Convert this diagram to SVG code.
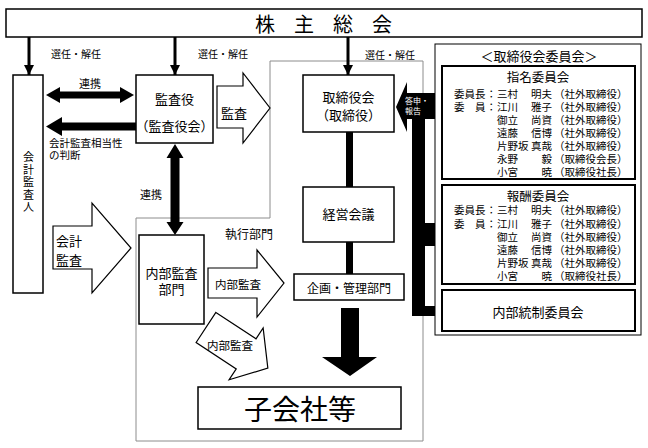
<svg xmlns="http://www.w3.org/2000/svg" width="648" height="448" viewBox="0 0 648 448">
<style>
text{font-family:"Noto Sans CJK JP","Noto Sans CJK SC",sans-serif;fill:#000}
.c{text-anchor:middle;dominant-baseline:central}
.l{dominant-baseline:central}
.box{fill:#fff;stroke:#000;stroke-width:1.5}
.ibox{fill:#fff;stroke:#000;stroke-width:2}
.hollow{fill:#fff;stroke:#000;stroke-width:1.2}
.blk{fill:#000}
.ln{stroke:#000;stroke-width:3;fill:none}
.m{font-size:10.5px}
.e{text-anchor:end}
</style>
<defs>
<marker id="ah" viewBox="0 0 10 10" refX="10" refY="5" markerWidth="10" markerHeight="10" markerUnits="userSpaceOnUse" orient="auto">
<path d="M0,0 L10,5 L0,10 z" fill="#000"/>
</marker>
</defs>
<rect x="0" y="0" width="648" height="448" fill="#fff"/>

<!-- gray execution area outline -->
<polygon points="136,441 136,218 270,218 270,61 423,61 423,441" fill="none" stroke="#8c8c8c" stroke-width="1"/>

<g id="shareholders">
<rect class="box" x="6" y="9" width="636" height="28"/>
<text class="l" font-size="20"><tspan x="255" y="23">株</tspan><tspan x="294" y="23">主</tspan><tspan x="333" y="23">総</tspan><tspan x="372" y="23">会</tspan></text>
</g>

<g id="auditor">
<rect class="box" x="13" y="75" width="30" height="218"/>
<text x="28.5" y="151.5" font-size="11" style="writing-mode:vertical-rl;letter-spacing:1.5px">会計監査人</text>
</g>

<g id="kansayaku">
<rect class="box" x="136" y="75" width="77" height="68"/>
<text class="c" x="174.5" y="98" font-size="13">監査役</text>
<text class="c" x="174.5" y="125" font-size="13">（監査役会）</text>
</g>

<g id="board">
<rect class="box" x="303" y="75" width="91" height="57"/>
<text class="c" font-size="13"><tspan x="348.5" y="96">取締役会</tspan><tspan x="348.5" y="114">（取締役）</tspan></text>
</g>

<g id="keiei">
<rect class="box" x="303" y="187" width="91" height="55"/>
<text class="c" x="348.5" y="213" font-size="13">経営会議</text>
</g>

<g id="kikaku">
<rect class="box" x="294" y="274" width="110" height="26"/>
<text class="c" x="349" y="287" font-size="12">企画・管理部門</text>
</g>

<g id="naibukansa">
<rect class="box" x="139" y="235" width="65" height="89"/>
<text class="c" font-size="13"><tspan x="171.5" y="272">内部監査</tspan><tspan x="171.5" y="288">部門</tspan></text>
</g>

<g id="kogaisha">
<rect class="box" x="198" y="387" width="203" height="42"/>
<text class="c" x="300" y="408" font-size="28">子会社等</text>
</g>

<g id="shikko-label">
<text class="l" x="225" y="233" font-size="12">執行部門</text>
</g>

<g id="committees">
<rect x="435" y="44" width="206" height="291" fill="#fff" stroke="#000" stroke-width="1"/>
<text class="c" x="539" y="55" font-size="13">＜取締役会委員会＞</text>
</g>

<g id="shimei">
<rect class="ibox" x="442" y="66" width="193" height="113"/>
<text class="c" x="538" y="76" font-size="12.5">指名委員会</text>
<text class="l m">
<tspan x="454" y="93">委員長</tspan><tspan x="486" y="93">：</tspan><tspan x="497" y="93">三村</tspan><tspan x="531" y="93">明夫</tspan><tspan x="554" y="93">（社外取締役）</tspan>
<tspan x="454" y="106">委　員</tspan><tspan x="486" y="106">：</tspan><tspan x="497" y="106">江川</tspan><tspan x="531" y="106">雅子</tspan><tspan x="554" y="106">（社外取締役）</tspan>
<tspan x="497" y="119">御立</tspan><tspan x="531" y="119">尚資</tspan><tspan x="554" y="119">（社外取締役）</tspan>
<tspan x="497" y="132">遠藤</tspan><tspan x="531" y="132">信博</tspan><tspan x="554" y="132">（社外取締役）</tspan>
<tspan x="497" y="145">片野坂</tspan><tspan x="531" y="145">真哉</tspan><tspan x="554" y="145">（社外取締役）</tspan>
<tspan x="497" y="158">永野</tspan><tspan x="541.5" y="158">毅</tspan><tspan x="554" y="158">（取締役会長）</tspan>
<tspan x="497" y="171">小宮</tspan><tspan x="541.5" y="171">暁</tspan><tspan x="554" y="171">（取締役社長）</tspan>
</text>
</g>

<g id="hoshu">
<rect class="ibox" x="442" y="185" width="193" height="99"/>
<text class="c" x="538" y="195" font-size="12.5">報酬委員会</text>
<text class="l m">
<tspan x="454" y="209">委員長</tspan><tspan x="486" y="209">：</tspan><tspan x="497" y="209">三村</tspan><tspan x="531" y="209">明夫</tspan><tspan x="554" y="209">（社外取締役）</tspan>
<tspan x="454" y="222.5">委　員</tspan><tspan x="486" y="222.5">：</tspan><tspan x="497" y="222.5">江川</tspan><tspan x="531" y="222.5">雅子</tspan><tspan x="554" y="222.5">（社外取締役）</tspan>
<tspan x="497" y="235.5">御立</tspan><tspan x="531" y="235.5">尚資</tspan><tspan x="554" y="235.5">（社外取締役）</tspan>
<tspan x="497" y="248.5">遠藤</tspan><tspan x="531" y="248.5">信博</tspan><tspan x="554" y="248.5">（社外取締役）</tspan>
<tspan x="497" y="261.5">片野坂</tspan><tspan x="531" y="261.5">真哉</tspan><tspan x="554" y="261.5">（社外取締役）</tspan>
<tspan x="497" y="274.5">小宮</tspan><tspan x="541.5" y="274.5">暁</tspan><tspan x="554" y="274.5">（取締役社長）</tspan>
</text>
</g>

<g id="naibutosei">
<rect class="ibox" x="442" y="290" width="193" height="41"/>
<text class="c" x="538" y="311" font-size="13">内部統制委員会</text>
</g>

<g id="connectors">
<!-- election arrows -->
<line class="ln" x1="29" y1="37" x2="29" y2="75" marker-end="url(#ah)"/>
<line class="ln" x1="175" y1="37" x2="175" y2="75" marker-end="url(#ah)"/>
<line class="ln" x1="348" y1="37" x2="348" y2="75" marker-end="url(#ah)"/>
<text class="c" x="76" y="53" font-size="10">選任・解任</text>
<text class="c" x="223" y="53" font-size="10">選任・解任</text>
<text class="c" x="390" y="54" font-size="10">選任・解任</text>

<!-- renkei horizontal -->
<polygon class="blk" points="46,95 60,87 60,91.5 120,91.5 120,87 134,95 120,103 120,98.5 60,98.5 60,103"/>
<text class="c" x="90" y="83" font-size="11">連携</text>

<!-- soutousei arrow -->
<polygon class="blk" points="46,126.5 62,117 62,122.5 136,122.5 136,130.5 62,130.5 62,136"/>
<text class="l" font-size="10.5"><tspan x="49" y="142">会計監査相当性</tspan><tspan x="49" y="154">の判断</tspan></text>

<!-- renkei vertical -->
<polygon class="blk" points="175,144 183.5,158 179.5,158 179.5,222 183.5,222 175,235 166.5,222 170.5,222 170.5,158 166.5,158"/>
<text class="c" x="151" y="194" font-size="11">連携</text>

<!-- kansa hollow -->
<polygon class="hollow" points="217,86 243,86 243,73 270,108 243,143 243,128 217,128"/>
<text class="c" x="234" y="112" font-size="13">監査</text>

<!-- kaikei kansa hollow -->
<polygon class="hollow" points="53,226 92,226 92,203 131,248 92,293 92,269 53,269"/>
<text class="l" font-size="13"><tspan x="56" y="240">会計</tspan><tspan x="56" y="259">監査</tspan></text>

<!-- naibu kansa horizontal -->
<polygon class="hollow" points="208,268 257,268 257,250 284,283 257,317 257,298 208,298"/>
<text class="c" x="238" y="284" font-size="11.5">内部監査</text>

<!-- naibu kansa diagonal -->
<polygon class="hollow" transform="translate(206,327.5) rotate(33.3)" points="0,-18 48,-18 48,-31 74,0 48,31 48,18 0,18"/>
<text class="c" x="230" y="345" font-size="11.5">内部監査</text>

<!-- board to keiei to kikaku -->
<rect class="blk" x="346" y="132" width="7" height="55"/>
<rect class="blk" x="346" y="242" width="7" height="32"/>

<!-- big down arrow -->
<polygon class="blk" points="341,308 359,308 359,357 377,357 350,376 322,357 341,357"/>

<!-- committee report bar -->
<polygon class="blk" points="407,82 407,93 435,93 435,119 407,119 407,132 396,107"/>
<rect class="blk" x="412" y="93" width="13" height="223"/>
<rect class="blk" x="412" y="223" width="23" height="23"/>
<rect class="blk" x="412" y="306" width="23" height="10"/>
<text class="l" font-size="8" style="fill:#fff"><tspan x="405" y="100">答申・</tspan><tspan x="405" y="110">報告</tspan></text>
</g>
</svg>
